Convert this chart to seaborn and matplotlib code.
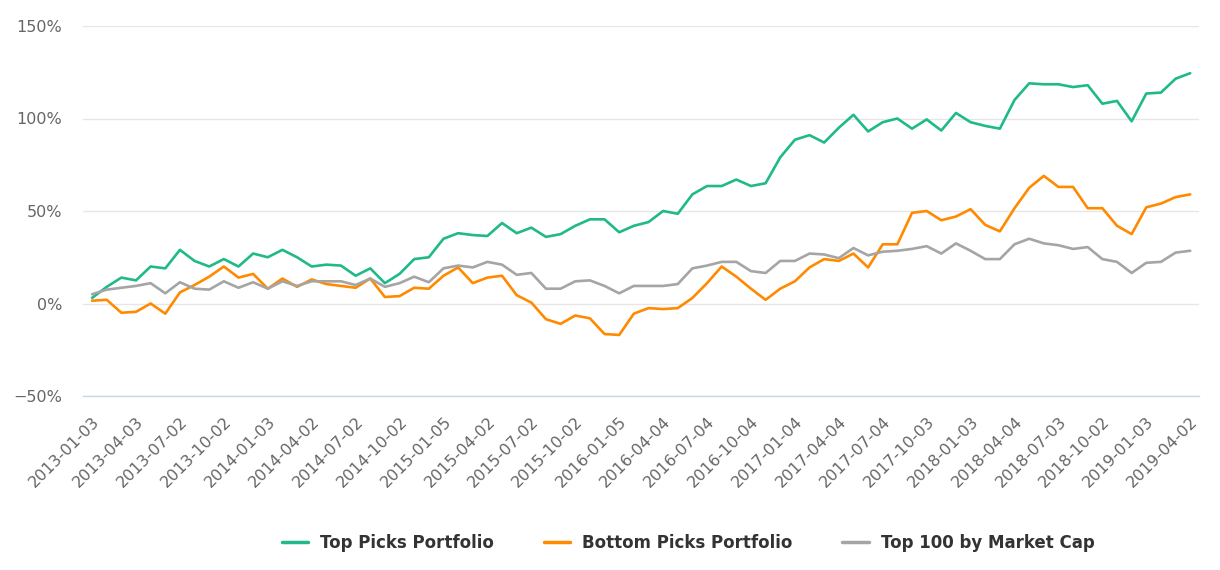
import matplotlib
matplotlib.use('Agg')
import matplotlib.pyplot as plt
import seaborn as sns
import pandas as pd
import numpy as np

# Cumulative returns (%), one value per month from 2013-01 to 2019-04
top_picks = [3, 9, 14, 12.5, 20, 19, 29, 23, 20, 24, 20, 27, 25,
             29, 25, 20, 21, 20.5, 15, 19, 11, 16, 24, 25, 35, 38,
             37, 36.5, 43.5, 38, 41, 36, 37.5, 42, 45.5, 45.5, 38.5, 42,
             44, 50, 48.5, 59, 63.5, 63.5, 67, 63.5, 65, 79, 88.5, 91, 87,
             95, 102, 93, 98, 100, 94.5, 99.5, 93.5, 103, 98, 96, 94.5,
             110, 119, 118.5, 118.5, 117, 118, 108, 109.5, 98.5, 113.5, 114, 121.5, 124.5]

bottom_picks = [1.5, 2, -5, -4.5, 0, -5.5, 6, 10, 14.5, 20, 14, 16, 8,
                13.5, 9, 13, 10.5, 9.5, 8.5, 13.5, 3.5, 4, 8.5, 8, 15, 19.5,
                11, 14, 15, 4.5, 0.5, -8.5, -11, -6.5, -8, -16.5, -17, -5.5,
                -2.5, -3, -2.5, 3, 11, 20, 14.5, 8, 2, 8, 12, 19.5, 24,
                23, 27, 19.5, 32, 32, 49, 50, 45, 47, 51, 42.5, 39,
                51.5, 62.5, 69, 63, 63, 51.5, 51.5, 42, 37.5, 52, 54, 57.5, 59]

top100 = [5, 7.5, 8.5, 9.5, 11, 5.5, 11.5, 8, 7.5, 12, 8.5, 11.5, 8,
          12, 9.5, 12, 12, 12, 10, 13.5, 9, 11, 14.5, 11.5, 19, 20.5,
          19.5, 22.5, 21, 15.5, 16.5, 8, 8, 12, 12.5, 9.5, 5.5, 9.5,
          9.5, 9.5, 10.5, 19, 20.5, 22.5, 22.5, 17.5, 16.5, 23, 23, 27, 26.5,
          24.5, 30, 26, 28, 28.5, 29.5, 31, 27, 32.5, 28.5, 24, 24,
          32, 35, 32.5, 31.5, 29.5, 30.5, 24, 22.5, 16.5, 22, 22.5, 27.5, 28.5]

tick_labels = ['2013-01-03', '2013-04-03', '2013-07-02', '2013-10-02',
               '2014-01-03', '2014-04-02', '2014-07-02', '2014-10-02',
               '2015-01-05', '2015-04-02', '2015-07-02', '2015-10-02',
               '2016-01-05', '2016-04-04', '2016-07-04', '2016-10-04',
               '2017-01-04', '2017-04-04', '2017-07-04', '2017-10-03',
               '2018-01-03', '2018-04-04', '2018-07-03', '2018-10-02',
               '2019-01-03', '2019-04-02']

series_names = ['Top Picks Portfolio', 'Bottom Picks Portfolio', 'Top 100 by Market Cap']
colors = ['#1fb98a', '#ff8a00', '#a5a5a5']

# long-form table for seaborn
frames = []
for name, vals in zip(series_names, [top_picks, bottom_picks, top100]):
    frames.append(pd.DataFrame({'month': np.arange(len(vals)), 'value': vals, 'series': name}))
df = pd.concat(frames, ignore_index=True)

sns.set_style('white')
plt.rcParams['font.family'] = ['DejaVu Sans']

fig = plt.figure(figsize=(12.2, 5.7), dpi=100)
ax = fig.add_axes([83 / 1220, 1 - 396 / 570, (1199 - 83) / 1220, (396 - 26) / 570])

sns.lineplot(data=df, x='month', y='value', hue='series', hue_order=series_names,
             palette=colors, linewidth=1.9, ax=ax, legend=False, zorder=3)
for line in ax.lines:
    line.set_solid_joinstyle('round')
    line.set_solid_capstyle('round')

ax.set_ylim(-50, 150)
ax.set_xlim(-0.62, 75.6)
ax.set_yticks([-50, 0, 50, 100, 150])
ax.set_yticklabels(['\u221250%', '0%', '50%', '100%', '150%'])
ax.set_xticks(np.arange(0, len(top_picks), 3))
ax.set_xticklabels(tick_labels, rotation=45, ha='right', rotation_mode='anchor')

ax.grid(axis='y', color='#e6e6e6', linewidth=1)
ax.grid(axis='x', visible=False)
for side in ['top', 'right', 'left']:
    ax.spines[side].set_visible(False)
ax.spines['bottom'].set_color('#ccd6eb')
ax.spines['bottom'].set_linewidth(1)

ax.tick_params(axis='y', length=0, pad=15, labelsize=11.5, labelcolor='#666666')
ax.tick_params(axis='x', length=8, width=1, color='#ccd6eb', pad=5,
               labelsize=11.5, labelcolor='#666666')
ax.set_xlabel('')
ax.set_ylabel('')

handles = [plt.Line2D([], [], color=c, linewidth=2.5) for c in colors]
leg = fig.legend(handles, series_names, loc='center', bbox_to_anchor=(688 / 1220, 1 - 543 / 570),
                 ncol=3, frameon=False, handlelength=1.6, handletextpad=0.7, columnspacing=3.0,
                 prop={'size': 12, 'weight': 'bold'})
for t in leg.get_texts():
    t.set_color('#333333')

fig.savefig('out.png', dpi=100)
